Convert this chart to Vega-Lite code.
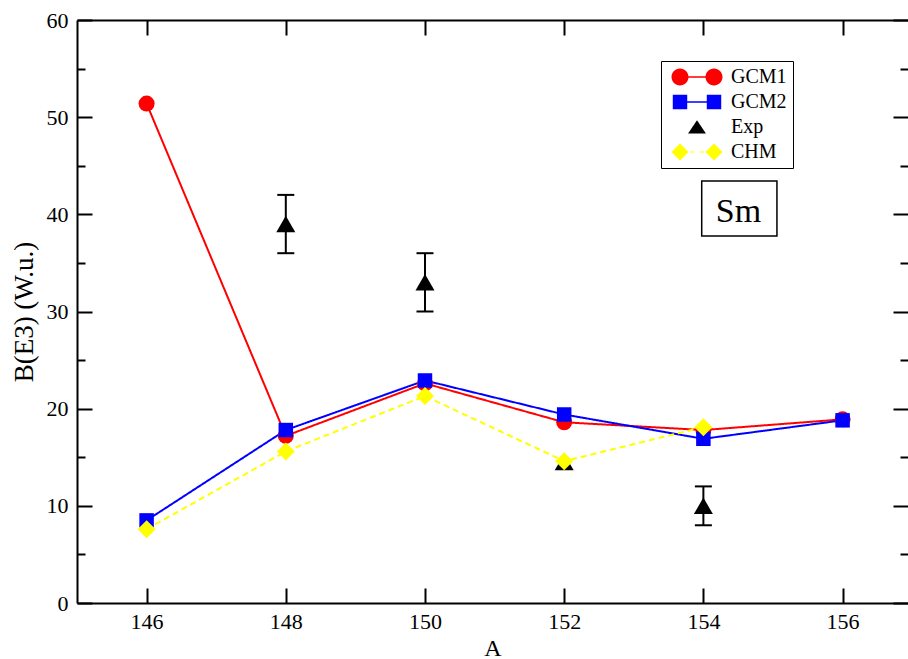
{
  "$schema": "https://vega.github.io/schema/vega-lite/v6.json",
  "autosize": "none",
  "width": 831,
  "height": 583,
  "padding": {"left": 77, "top": 20, "right": 0, "bottom": 56},
  "background": "white",
  "config": {
    "view": {"stroke": null},
    "axis": {
      "domainColor": "black",
      "domainWidth": 2,
      "gridColor": "black",
      "gridWidth": 2,
      "gridOpacity": 1,
      "labelFont": "Liberation Serif",
      "labelFontSize": 22,
      "labelColor": "black",
      "titleFont": "Liberation Serif",
      "titleFontWeight": "normal",
      "titleColor": "black"
    }
  },
  "data": {
    "values": [
      {"series": "GCM1", "A": 146, "B": 51.4},
      {"series": "GCM1", "A": 148, "B": 17.2},
      {"series": "GCM1", "A": 150, "B": 22.6},
      {"series": "GCM1", "A": 152, "B": 18.6},
      {"series": "GCM1", "A": 154, "B": 17.8},
      {"series": "GCM1", "A": 156, "B": 18.9},
      {"series": "GCM2", "A": 146, "B": 8.5},
      {"series": "GCM2", "A": 148, "B": 17.8},
      {"series": "GCM2", "A": 150, "B": 22.9},
      {"series": "GCM2", "A": 152, "B": 19.4},
      {"series": "GCM2", "A": 154, "B": 16.9},
      {"series": "GCM2", "A": 156, "B": 18.8},
      {"series": "Exp", "A": 148, "B": 39, "lo": 36, "hi": 42},
      {"series": "Exp", "A": 150, "B": 33, "lo": 30, "hi": 36},
      {"series": "Exp", "A": 152, "B": 14.5},
      {"series": "Exp", "A": 154, "B": 10, "lo": 8, "hi": 12},
      {"series": "CHM", "A": 146, "B": 7.6},
      {"series": "CHM", "A": 148, "B": 15.6},
      {"series": "CHM", "A": 150, "B": 21.3},
      {"series": "CHM", "A": 152, "B": 14.6},
      {"series": "CHM", "A": 154, "B": 18.1}
    ]
  },
  "resolve": {"axis": {"x": "independent", "y": "independent"}},
  "layer": [
    {
      "transform": [{"filter": "datum.series !== 'Exp'"}],
      "mark": {"type": "line"},
      "encoding": {
        "x": {"field": "A", "type": "quantitative", "scale": {"domain": [145, 156.94], "nice": false, "zero": false},
          "axis": {"orient": "bottom", "values": [146, 148, 150, 152, 154, 156], "ticks": false, "grid": true, "gridDash": [15, 553, 15], "labelPadding": 8, "title": "A", "titleFontSize": 24, "titleBaseline": "alphabetic", "titleY": 52}},
        "y": {"field": "B", "type": "quantitative", "scale": {"domain": [0, 60], "nice": false},
          "axis": {"orient": "left", "values": [0, 5, 10, 15, 20, 25, 30, 35, 40, 45, 50, 55, 60],
            "ticks": false, "grid": true,
            "gridDash": {"condition": {"test": "datum.value % 10 === 0", "value": [15, 801, 15]}, "value": [8, 815, 8]},
            "labelExpr": "datum.value % 10 === 0 ? datum.label : ''",
            "labelPadding": 9, "title": "B(E3) (W.u.)", "titleFontSize": 27, "titlePadding": 8}},
        "color": {"field": "series", "type": "nominal", "scale": {"domain": ["GCM1", "GCM2", "CHM"], "range": ["#ff0000", "#0000ff", "#ffff00"]}, "legend": null},
        "strokeDash": {"field": "series", "type": "nominal", "scale": {"domain": ["GCM1", "GCM2", "CHM"], "range": [[1, 0], [1, 0], [6, 4]]}, "legend": null},
        "strokeWidth": {"field": "series", "type": "nominal", "scale": {"domain": ["GCM1", "GCM2", "CHM"], "range": [2, 2, 1.5]}, "legend": null}
      }
    },
    {
      "transform": [{"filter": "datum.series === 'GCM1'"}],
      "mark": {"type": "point", "shape": "circle", "filled": true, "color": "#ff0000", "size": 256, "opacity": 1},
      "encoding": {
        "x": {"field": "A", "type": "quantitative", "axis": null},
        "y": {"field": "B", "type": "quantitative", "axis": null}
      }
    },
    {
      "transform": [{"filter": "datum.series === 'GCM2'"}],
      "mark": {"type": "point", "shape": "square", "filled": true, "color": "#0000ff", "size": 210, "opacity": 1},
      "encoding": {
        "x": {"field": "A", "type": "quantitative", "axis": null},
        "y": {"field": "B", "type": "quantitative", "axis": null}
      }
    },
    {
      "transform": [{"filter": "datum.series === 'Exp' && isValid(datum.lo)"}],
      "mark": {"type": "rule", "color": "black", "strokeWidth": 2},
      "encoding": {
        "x": {"field": "A", "type": "quantitative",
          "axis": {"orient": "top", "ticks": false, "labels": false, "grid": false, "title": null}},
        "y": {"field": "lo", "type": "quantitative", "axis": null},
        "y2": {"field": "hi"}
      }
    },
    {
      "transform": [{"filter": "datum.series === 'Exp' && isValid(datum.lo)"}],
      "mark": {"type": "tick", "orient": "horizontal", "color": "black", "size": 17, "thickness": 2, "opacity": 1},
      "encoding": {
        "x": {"field": "A", "type": "quantitative", "axis": null},
        "y": {"field": "lo", "type": "quantitative", "axis": null}
      }
    },
    {
      "transform": [{"filter": "datum.series === 'Exp' && isValid(datum.hi)"}],
      "mark": {"type": "tick", "orient": "horizontal", "color": "black", "size": 17, "thickness": 2, "opacity": 1},
      "encoding": {
        "x": {"field": "A", "type": "quantitative", "axis": null},
        "y": {"field": "hi", "type": "quantitative", "axis": null}
      }
    },
    {
      "transform": [{"filter": "datum.series === 'Exp'"}],
      "mark": {"type": "point", "shape": "triangle-up", "filled": true, "color": "black", "size": 361, "opacity": 1},
      "encoding": {
        "x": {"field": "A", "type": "quantitative", "axis": null},
        "y": {"field": "B", "type": "quantitative", "axis": null}
      }
    },
    {
      "transform": [{"filter": "datum.series === 'CHM'"}],
      "mark": {"type": "point", "shape": "diamond", "filled": true, "color": "#ffff00", "size": 324, "opacity": 1},
      "encoding": {
        "x": {"field": "A", "type": "quantitative", "axis": null},
        "y": {"field": "B", "type": "quantitative", "axis": null}
      }
    },
    {
      "transform": [{"filter": "false"}],
      "mark": {"type": "point", "filled": true, "size": 289, "opacity": 1, "strokeWidth": 0},
      "encoding": {
        "fill": {"field": "series", "type": "nominal",
          "scale": {"domain": ["GCM1", "GCM2", "Exp", "CHM"], "range": ["#ff0000", "#0000ff", "#000000", "#ffff00"]},
          "legend": {"title": null, "orient": "none", "legendX": 584, "legendY": 41, "padding": 6, "strokeColor": "black", "fillColor": "white", "rowPadding": 5, "symbolOffset": 20, "labelOffset": 24, "labelFont": "Liberation Serif", "labelFontSize": 20, "labelColor": "black", "symbolStrokeWidth": 0, "symbolSize": 289, "symbolOpacity": 1}},
        "shape": {"field": "series", "type": "nominal",
          "scale": {"domain": ["GCM1", "GCM2", "Exp", "CHM"], "range": [
            "M-3,0A1,1,0,1,1,-1,0A1,1,0,1,1,-3,0Z M-1.05,-0.1H1.05V0.1H-1.05Z M1,0A1,1,0,1,1,3,0A1,1,0,1,1,1,0Z",
            "M-2.85,-0.85H-1.15V0.85H-2.85Z M-1.2,-0.1H1.2V0.1H-1.2Z M1.15,-0.85H2.85V0.85H1.15Z",
            "M0,-0.8L1.05,0.75H-1.05Z",
            "M-3,0L-2,-1L-1,0L-2,1Z M1,0L2,-1L3,0L2,1Z M-0.8,-0.07H-0.3V0.07H-0.8Z M0.3,-0.07H0.8V0.07H0.3Z"
          ]},
          "legend": {"title": null, "orient": "none", "legendX": 584, "legendY": 41, "padding": 6, "strokeColor": "black", "fillColor": "white", "rowPadding": 5, "symbolOffset": 20, "labelOffset": 24, "labelFont": "Liberation Serif", "labelFontSize": 20, "labelColor": "black", "symbolStrokeWidth": 0, "symbolSize": 289, "symbolOpacity": 1}}
      }
    },
    {
      "data": {"values": [{"label": "Sm"}]},
      "mark": {"type": "rect", "fill": "white", "stroke": "black", "strokeWidth": 1.5},
      "encoding": {
        "x": {"datum": 153.976, "type": "quantitative", "axis": null},
        "x2": {"datum": 155.057},
        "y": {"datum": 43.43, "type": "quantitative", "axis": null},
        "y2": {"datum": 37.77}
      }
    },
    {
      "data": {"values": [{"label": "Sm"}]},
      "mark": {"type": "text", "font": "Liberation Serif", "fontSize": 34, "color": "black", "align": "center", "baseline": "alphabetic"},
      "encoding": {
        "x": {"datum": 154.504, "type": "quantitative", "axis": null},
        "y": {"datum": 39.22, "type": "quantitative", "axis": null},
        "text": {"field": "label"}
      }
    }
  ]
}
